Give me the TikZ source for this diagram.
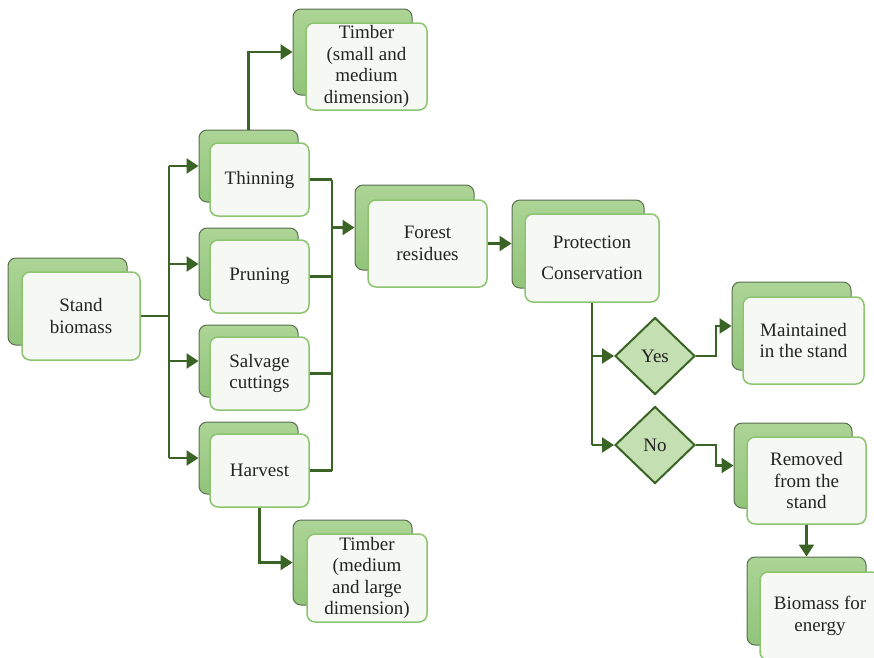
\documentclass[tikz,border=0pt]{standalone}
\usepackage{fontspec}
\setmainfont{Liberation Serif}
\usetikzlibrary{shapes.geometric,arrows.meta}

\definecolor{linegreen}{RGB}{58,100,38}
\definecolor{backfill}{RGB}{146,196,122}
\definecolor{backfilltop}{RGB}{172,212,150}
\definecolor{backedge}{RGB}{90,110,80}
\definecolor{frontfill}{RGB}{246,249,243}
\definecolor{frontedge}{RGB}{140,196,112}
\definecolor{diafill}{RGB}{196,223,178}
\definecolor{textgray}{RGB}{35,35,35}

\tikzset{
  backbox/.style={rectangle, rounded corners=8pt, draw=backedge, line width=1pt,
    top color=backfilltop, bottom color=backfill, inner sep=0pt},
  frontbox/.style={rectangle, rounded corners=8pt, draw=frontedge, line width=1.5pt,
    fill=frontfill, inner sep=0pt, align=center, text=textgray,
    font=\fontsize{19}{21.5}\selectfont},
  decision/.style={diamond, draw=linegreen, line width=2pt, fill=diafill,
    minimum width=80pt, minimum height=77pt, inner sep=0pt, text=textgray,
    font=\fontsize{19}{21.5}\selectfont},
  link/.style={draw=linegreen, line width=2.6pt},
  flow/.style={link, -{Triangle[length=12pt,width=15pt]}}
}

\begin{document}
\begin{tikzpicture}[x=1pt,y=-1pt]
\useasboundingbox (0,0) rectangle (874,657);

% stacked boxes: a shaded back card and a light front card
\node[backbox, minimum width=119pt, minimum height=87pt] (standb) at (67.5,301.5) {};
\node[frontbox, minimum width=118pt, minimum height=88pt] (stand) at (81,316) {Stand\\biomass};

\node[backbox, minimum width=99pt, minimum height=72pt] (thinb) at (248.5,166) {};
\node[frontbox, minimum width=99pt, minimum height=73pt] (thin) at (259.5,179.5) {Thinning};

\node[backbox, minimum width=99pt, minimum height=72pt] (pruneb) at (248.5,264) {};
\node[frontbox, minimum width=99pt, minimum height=73pt] (prune) at (259.5,276.5) {Pruning};

\node[backbox, minimum width=99pt, minimum height=72pt] (salvb) at (248.5,361) {};
\node[frontbox, minimum width=99pt, minimum height=73pt] (salv) at (259.5,373.5) {Salvage\\cuttings};

\node[backbox, minimum width=99pt, minimum height=72pt] (harvb) at (248.5,458) {};
\node[frontbox, minimum width=99pt, minimum height=73pt] (harv) at (259.5,470.5) {Harvest};

\node[backbox, minimum width=119pt, minimum height=86pt] (tsmallb) at (352.5,52) {};
\node[frontbox, minimum width=121pt, minimum height=87pt] (tsmall) at (366.5,66.5) {Timber\\(small and\\medium\\dimension)};

\node[backbox, minimum width=119pt, minimum height=85pt] (tmedb) at (352.5,562.5) {};
\node[frontbox, minimum width=120pt, minimum height=88pt] (tmed) at (367,578) {Timber\\(medium\\and large\\dimension)};

\node[backbox, minimum width=119pt, minimum height=85pt] (forestb) at (414.5,227.5) {};
\node[frontbox, minimum width=119pt, minimum height=87pt] (forest) at (427.5,243.5) {Forest\\residues};

\node[backbox, minimum width=132pt, minimum height=88pt] (protb) at (578,244) {};
\node[frontbox, minimum width=134pt, minimum height=88pt] (prot) at (592,258) {Protection\\[9pt]Conservation};

\node[backbox, minimum width=119pt, minimum height=88pt] (maintb) at (791.5,326) {};
\node[frontbox, minimum width=121pt, minimum height=87pt] (maint) at (803.5,340.5) {Maintained\\in the stand};

\node[backbox, minimum width=118pt, minimum height=85pt] (removb) at (793,465.5) {};
\node[frontbox, minimum width=119pt, minimum height=87pt] (remov) at (806.5,480.5) {Removed\\from the\\stand};

\node[backbox, minimum width=119pt, minimum height=88pt] (biob) at (806.5,601) {};
\node[frontbox, minimum width=120pt, minimum height=88pt] (bio) at (820,616) {Biomass for\\energy};

% decisions
\node[decision] (yes) at (655,356) {Yes};
\node[decision] (no) at (655,445) {No};

% distribution from the stand to the four operations
\draw[link] (stand.east) -- (169,316) coordinate (busL);
\draw[link] (busL |- thinb.west) -- (busL |- harvb.west);
\draw[flow] (busL |- thinb.west) -- (thinb.west);
\draw[flow] (busL |- pruneb.west) -- (pruneb.west);
\draw[flow] (busL |- salvb.west) -- (salvb.west);
\draw[flow] (busL |- harvb.west) -- (harvb.west);

% timber outputs
\draw[flow] (thinb.north) |- (tsmallb.west);
\draw[flow] (harv.south) |- (tmedb.west);

% collection of residues
\coordinate (busR) at (332,230);
\draw[link] (thin.east) -- (busR |- thin.east);
\draw[link] (prune.east) -- (busR |- prune.east);
\draw[link] (salv.east) -- (busR |- salv.east);
\draw[link] (harv.east) -- (busR |- harv.east);
\draw[link] (busR |- thin.east) -- (busR |- harv.east);
\draw[flow] (busR |- forestb.west) -- (forestb.west);

\draw[flow] (forest.east) -- (forest.east -| protb.west);

% decision branch
\draw[link] (prot.south) -- (prot.south |- no.west);
\draw[flow] (prot.south |- yes.west) -- (yes.west);
\draw[flow] (prot.south |- no.west) -- (no.west);

\coordinate (yesturn) at (716,356);
\coordinate (noturn) at (716,445);
\draw[flow] (yes.east) -- (yesturn) -- (yesturn |- maintb.west) -- (maintb.west);
\draw[flow] (no.east) -- (noturn) -- (noturn |- removb.west) -- (removb.west);

\draw[flow] (remov.south) -- (remov.south |- biob.north);
\end{tikzpicture}
\end{document}
